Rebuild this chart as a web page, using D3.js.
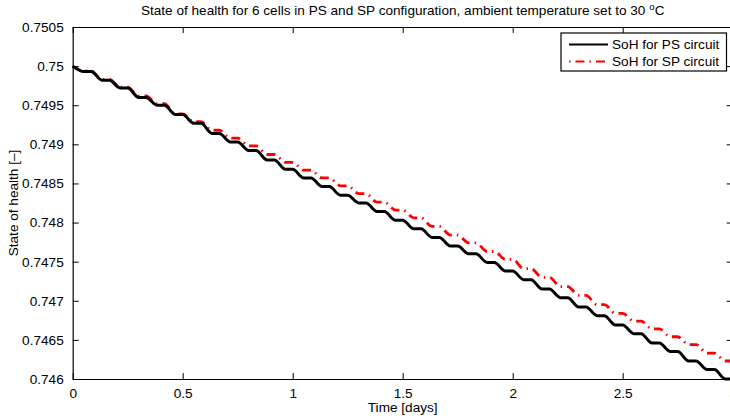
<!DOCTYPE html>
<html>
<head>
<meta charset="utf-8">
<script src="https://cdn.jsdelivr.net/npm/d3@7"></script>
<style>
  html, body { margin: 0; padding: 0; background: #fff; }
  svg { display: block; font-family: "Liberation Sans", Arial, Helvetica, sans-serif; }
</style>
</head>
<body>
<svg id="chart" width="730" height="418"></svg>
<script>
// ---- data ----
const titleMain = "State of health for 6 cells in PS and SP configuration, ambient temperature set to 30 ";
const xLabel = "Time [days]";
const yLabel = "State of health [\u2013]";
const xTicks = [0, 0.5, 1, 1.5, 2, 2.5, 3];
const yTicks = [0.746, 0.7465, 0.747, 0.7475, 0.748, 0.7485, 0.749, 0.7495, 0.75, 0.7505];
const seriesNames = ["SoH for PS circuit", "SoH for SP circuit"];
// step cycle: one degradation step every 2 hours, drop lasting ~1.2 h
const stepDays = 2 / 24;
const dropDays = 1.2 / 24;
// plateau levels after each 2-hour step (index 0 = start)
const psLevels = [0.75000, 0.74993, 0.74982, 0.74972, 0.74960, 0.74950, 0.74938, 0.74927, 0.74914, 0.74903,
  0.74892, 0.74880, 0.74868, 0.74857, 0.74846, 0.74835, 0.74825, 0.74814, 0.74803, 0.74792,
  0.74781, 0.74770, 0.74760, 0.74749, 0.74738, 0.74727, 0.74715, 0.74704, 0.74692, 0.74681,
  0.74669, 0.74658, 0.74646, 0.74635, 0.74623, 0.74612, 0.74600];
const spLevels = [0.75000, 0.74994, 0.74983, 0.74973, 0.74962, 0.74952, 0.74939, 0.74929, 0.74918, 0.74908,
  0.74898, 0.74887, 0.74877, 0.74867, 0.74857, 0.74847, 0.74837, 0.74826, 0.74816, 0.74806,
  0.74795, 0.74784, 0.74774, 0.74763, 0.74753, 0.74741, 0.74730, 0.74718, 0.74707, 0.74695,
  0.74684, 0.74674, 0.74664, 0.74654, 0.74644, 0.74633, 0.74623];

// ---- layout ----
const m = { left: 72.7, top: 27, right: 732.7, bottom: 379 };
const svg = d3.select("#chart");

const x = d3.scaleLinear().domain([0, 3]).range([m.left, m.right]);
const y = d3.scaleLinear().domain([0.746, 0.7505]).range([m.bottom, m.top]);

function stairPoints(levels) {
  const pts = [];
  for (let j = 0; j < levels.length - 1; j++) {
    pts.push([j * stepDays, levels[j]]);
    pts.push([j * stepDays + dropDays, levels[j + 1]]);
  }
  pts.push([(levels.length - 1) * stepDays, levels[levels.length - 1]]);
  return pts;
}

const line = d3.line().x(d => x(d[0])).y(d => y(d[1])).curve(d3.curveMonotoneX);

// lines
svg.append("path").datum(stairPoints(spLevels))
  .attr("d", line).attr("fill", "none").attr("stroke", "#ff0000")
  .attr("stroke-width", 2.8).attr("stroke-dasharray", "9,5,1.5,5");
svg.append("path").datum(stairPoints(psLevels))
  .attr("d", line).attr("fill", "none").attr("stroke", "#000")
  .attr("stroke-width", 3);

// axes (MATLAB-style box with inward ticks)
const tickLen = 6;
const fs = 13.6;
const bottomAxis = d3.axisBottom(x).tickValues(xTicks).tickSizeInner(-tickLen).tickSizeOuter(0).tickPadding(9).tickFormat(d3.format("~g"));
const topAxis = d3.axisTop(x).tickValues(xTicks).tickSizeInner(-tickLen).tickSizeOuter(0).tickFormat("");
const leftAxis = d3.axisLeft(y).tickValues(yTicks).tickSizeInner(-tickLen).tickSizeOuter(0).tickPadding(9).tickFormat(d3.format(".4~f"));
const rightAxis = d3.axisRight(y).tickValues(yTicks).tickSizeInner(-tickLen).tickSizeOuter(0).tickFormat("");

function style(g) {
  g.select(".domain").attr("stroke", "#000").attr("stroke-width", 1.2);
  g.selectAll(".tick line").attr("stroke", "#000").attr("stroke-width", 1);
  g.selectAll(".tick text").attr("fill", "#000").attr("font-size", fs).attr("font-family", "Liberation Sans, Arial, sans-serif");
}
svg.append("g").attr("transform", `translate(0,${m.bottom})`).call(bottomAxis).call(style);
svg.append("g").attr("transform", `translate(0,${m.top})`).call(topAxis).call(style);
svg.append("g").attr("transform", `translate(${m.left},0)`).call(leftAxis).call(style);
svg.append("g").attr("transform", `translate(${m.right},0)`).call(rightAxis).call(style);

// title
const title = svg.append("text").attr("x", (m.left + m.right) / 2).attr("y", 15)
  .attr("text-anchor", "middle").attr("font-size", fs).attr("fill", "#000");
title.append("tspan").text(titleMain);
title.append("tspan").attr("dy", -5).attr("font-size", fs * 0.72).text("o");
title.append("tspan").attr("dy", 5).text("C");

// axis labels
svg.append("text").attr("x", (m.left + m.right) / 2).attr("y", 412)
  .attr("text-anchor", "middle").attr("font-size", fs).attr("fill", "#000").text(xLabel);
svg.append("text").attr("transform", `translate(18,${(m.top + m.bottom) / 2}) rotate(-90)`)
  .attr("text-anchor", "middle").attr("font-size", fs).attr("fill", "#000").text(yLabel);

// legend
const lg = svg.append("g");
lg.append("rect").attr("x", 561).attr("y", 33).attr("width", 165.5).attr("height", 38)
  .attr("fill", "#fff").attr("stroke", "#000").attr("stroke-width", 1.2);
const legendItems = [
  { name: seriesNames[0], color: "#000", dash: null, w: 2.2 },
  { name: seriesNames[1], color: "#ff0000", dash: "1.5,5,9,5", w: 2.2 }
];
legendItems.forEach((it, i) => {
  const cy = 44.5 + i * 17;
  const l = lg.append("line").attr("x1", 569).attr("x2", 608).attr("y1", cy).attr("y2", cy)
    .attr("stroke", it.color).attr("stroke-width", it.w);
  if (it.dash) l.attr("stroke-dasharray", it.dash);
  lg.append("text").attr("x", 612).attr("y", cy + 4.8).attr("font-size", fs).attr("fill", "#000").text(it.name);
});
</script>
</body>
</html>
